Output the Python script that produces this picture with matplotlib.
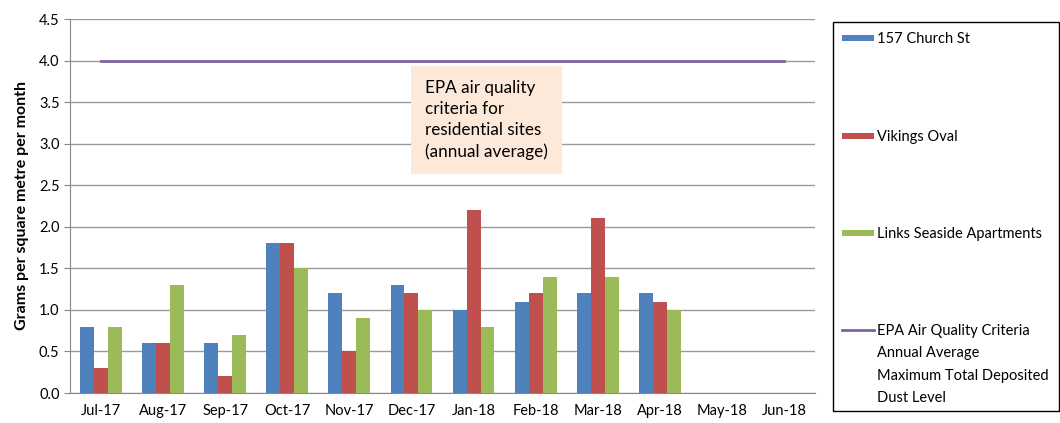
import numpy as np
import matplotlib.pyplot as plt
from matplotlib.patches import Rectangle
from matplotlib.lines import Line2D

months = ["Jul-17", "Aug-17", "Sep-17", "Oct-17", "Nov-17", "Dec-17",
          "Jan-18", "Feb-18", "Mar-18", "Apr-18", "May-18", "Jun-18"]
church_st = [0.8, 0.6, 0.6, 1.8, 1.2, 1.3, 1.0, 1.1, 1.2, 1.2, np.nan, np.nan]
vikings_oval = [0.3, 0.6, 0.2, 1.8, 0.5, 1.2, 2.2, 1.2, 2.1, 1.1, np.nan, np.nan]
links_seaside = [0.8, 1.3, 0.7, 1.5, 0.9, 1.0, 0.8, 1.4, 1.4, 1.0, np.nan, np.nan]
epa_criteria = [4.0] * 12

labels = ["157 Church St", "Vikings Oval", "Links Seaside Apartments",
          "EPA Air Quality Criteria\nAnnual Average\nMaximum Total Deposited\nDust Level"]
colors = ["#4F81BD", "#C0504D", "#9BBB59", "#8064A2"]

plt.rcParams["font.family"] = ["Lato", "DejaVu Sans"]

W, H = 1060, 423
fig = plt.figure(figsize=(W / 100, H / 100), dpi=100)
ax = fig.add_axes([70 / W, 1 - 393 / H, 745 / W, 374 / H])

x = np.arange(len(months))
w = 0.225
ax.bar(x - w, church_st, w, color=colors[0], zorder=3)
ax.bar(x, vikings_oval, w, color=colors[1], zorder=3)
ax.bar(x + w, links_seaside, w, color=colors[2], zorder=3)
ax.plot(x, epa_criteria, color=colors[3], lw=2, zorder=3)

ax.set_xlim(-0.5, len(months) - 0.5)
ax.set_ylim(0, 4.5)
yt = np.arange(0, 4.51, 0.5)
ax.set_yticks(yt)
ax.set_yticklabels([f"{v:.1f}" for v in yt], fontsize=10.5)
ax.set_xticks(x)
ax.set_xticklabels(months, fontsize=10.5)
ax.tick_params(axis="x", length=0, pad=8)
ax.tick_params(axis="y", length=4, color="#888888")
ax.grid(axis="y", color="#999999", lw=1, zorder=0)
for s in ["top", "right"]:
    ax.spines[s].set_visible(False)
ax.spines["left"].set_color("#888888")
ax.spines["bottom"].set_color("#888888")
ax.set_ylabel("Grams per square metre per month", fontsize=11.5, fontweight="bold", labelpad=7)

# annotation box
ax.text(5.22, 3.77, "EPA air quality\ncriteria for\nresidential sites\n(annual average)",
        fontsize=12.3, va="top", ha="left", linespacing=1.4, zorder=4,
        bbox=dict(boxstyle="square,pad=0.8", fc="#FDE9D9", ec="none"))

# legend drawn by hand so the handles sit beside the first line of each label
def fp(px, py):
    return px / W, 1 - py / H

x0, y0 = fp(833, 411)
x1, y1 = fp(1059, 22)
fig.patches.append(Rectangle((x0, y0), x1 - x0, y1 - y0, transform=fig.transFigure,
                             fill=False, ec="black", lw=1))
rows = [38, 136, 233, 330]
for i, (lab, c, ry) in enumerate(zip(labels, colors, rows)):
    if i < 3:
        hx, hy = fp(842, ry + 3)
        fig.patches.append(Rectangle((hx, hy), 32 / W, 6 / H, transform=fig.transFigure,
                                     fc=c, ec="none"))
    else:
        lx0, ly = fp(842, ry)
        lx1, _ = fp(874, ry)
        fig.lines.append(Line2D([lx0, lx1], [ly, ly], transform=fig.transFigure,
                                color=c, lw=2))
    tx, ty = fp(877, ry - 6)
    fig.text(tx, ty, lab, fontsize=10.5, va="top", ha="left", linespacing=1.75)

fig.savefig("out.png", dpi=100)
